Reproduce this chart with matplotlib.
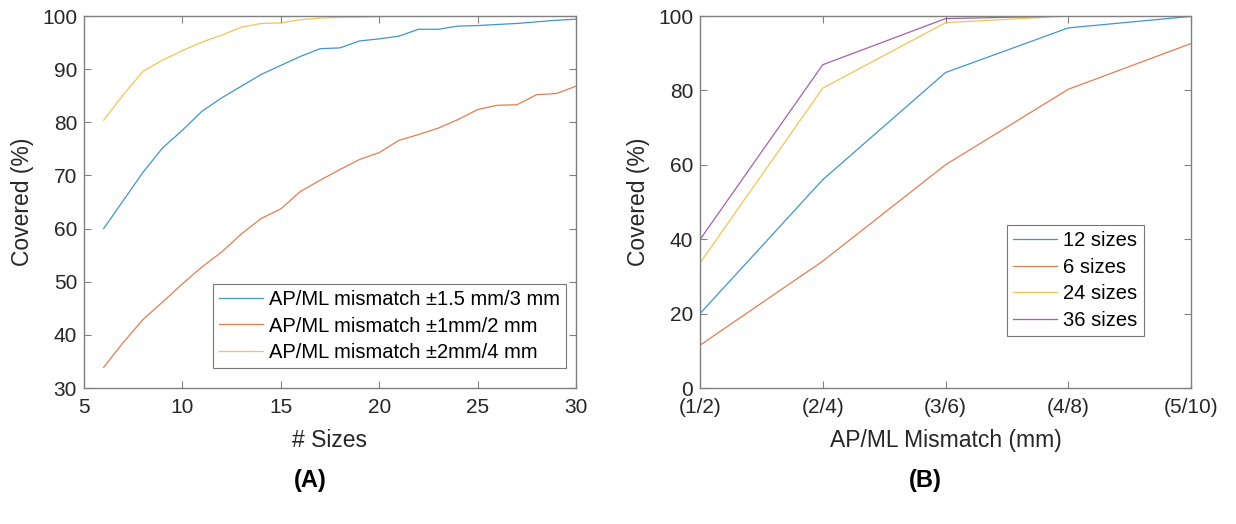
import numpy as np
import matplotlib
matplotlib.use('Agg')
import matplotlib.pyplot as plt

plt.rcParams['font.family'] = ['Liberation Sans', 'DejaVu Sans']

# Panel A data
n_sizes = list(range(6, 31))
cov_15mm = [60.0, 65.3, 70.6, 75.2, 78.5, 82.1, 84.6, 86.8, 89.0, 90.7, 92.4, 93.85, 94.0,
            95.3, 95.7, 96.2, 97.5, 97.5, 98.1, 98.2, 98.4, 98.6, 98.9, 99.2, 99.4]
cov_1mm = [33.9, 38.6, 42.9, 46.2, 49.6, 52.8, 55.6, 59.0, 61.9, 63.7, 67.0, 69.1, 71.1,
           73.0, 74.3, 76.6, 77.7, 78.9, 80.5, 82.4, 83.2, 83.3, 85.2, 85.4, 86.8]
cov_2mm = [80.4, 85.2, 89.6, 91.7, 93.5, 95.1, 96.4, 97.9, 98.6, 98.7, 99.3, 99.6, 99.75,
           99.8, 99.9, 100, 100, 100, 100, 100, 100, 100, 100, 100, 100]
labels_A = ['AP/ML mismatch \u00b11.5 mm/3 mm', 'AP/ML mismatch \u00b11mm/2 mm',
            'AP/ML mismatch \u00b12mm/4 mm']

# Panel B data
mismatch = ['(1/2)', '(2/4)', '(3/6)', '(4/8)', '(5/10)']
sizes_12 = [20.0, 56.0, 84.8, 96.8, 99.9]
sizes_6 = [11.5, 34.1, 60.0, 80.3, 92.6]
sizes_24 = [33.6, 80.6, 98.2, 100, 100]
sizes_36 = [39.9, 86.9, 99.3, 100, 100]
labels_B = ['12 sizes', '6 sizes', '24 sizes', '36 sizes']

cols = ['#0072BD', '#D95319', '#EDB120', '#7E2F8E']
lw = 0.9
txt = '#262626'

fig = plt.figure(figsize=(12.36, 5.24), dpi=100)
axA = fig.add_axes([84/1236, 136/524, 492/1236, 372/524])
axB = fig.add_axes([700/1236, 136/524, 491/1236, 372/524])

for ax in (axA, axB):
    for s in ax.spines.values():
        s.set_color('#808080')
        s.set_linewidth(1.0)
    ax.tick_params(direction='in', top=True, right=True, colors='#808080',
                   labelcolor=txt, labelsize=15, length=5, width=0.8)
    ax.tick_params(axis='x', pad=7)
    ax.tick_params(axis='y', pad=5)


def make_legend(ax, anchor):
    leg = ax.legend(loc='upper left', bbox_to_anchor=anchor, borderaxespad=0,
                    fontsize=14.5, frameon=True, fancybox=False, borderpad=0.3,
                    labelspacing=0.38, handlelength=2.2, handletextpad=0.3)
    leg.get_frame().set_edgecolor('#555555')
    leg.get_frame().set_linewidth(0.8)
    return leg


# Panel A
for y, c, l in zip([cov_15mm, cov_1mm, cov_2mm], cols, labels_A):
    axA.plot(n_sizes, y, color=c, lw=lw, label=l, alpha=0.75)
axA.set_xlim(5, 30)
axA.set_ylim(30, 100)
axA.set_xticks(range(5, 31, 5))
axA.set_yticks(range(30, 101, 10))
axA.set_xlabel('# Sizes', fontsize=16.5, color=txt, labelpad=9)
axA.set_ylabel('Covered (%)', fontsize=16.5, color=txt, labelpad=6)
make_legend(axA, (0.262, 0.28))

# Panel B
xb = np.arange(len(mismatch))
for y, c, l in zip([sizes_12, sizes_6, sizes_24, sizes_36], cols, labels_B):
    axB.plot(xb, y, color=c, lw=lw, label=l, alpha=0.75)
axB.set_xlim(0, len(mismatch) - 1)
axB.set_ylim(0, 100)
axB.set_xticks(xb)
axB.set_xticklabels(mismatch)
axB.set_yticks(range(0, 101, 20))
axB.set_xlabel('AP/ML Mismatch (mm)', fontsize=16.5, color=txt, labelpad=9)
axB.set_ylabel('Covered (%)', fontsize=16.5, color=txt, labelpad=6)
make_legend(axB, (0.625, 0.438))

fig.text(310/1236, 1 - 480/524, '(A)', fontsize=17, fontweight='bold', ha='center', va='center')
fig.text(925/1236, 1 - 480/524, '(B)', fontsize=17, fontweight='bold', ha='center', va='center')

fig.savefig('out.png', dpi=100, facecolor='white')
